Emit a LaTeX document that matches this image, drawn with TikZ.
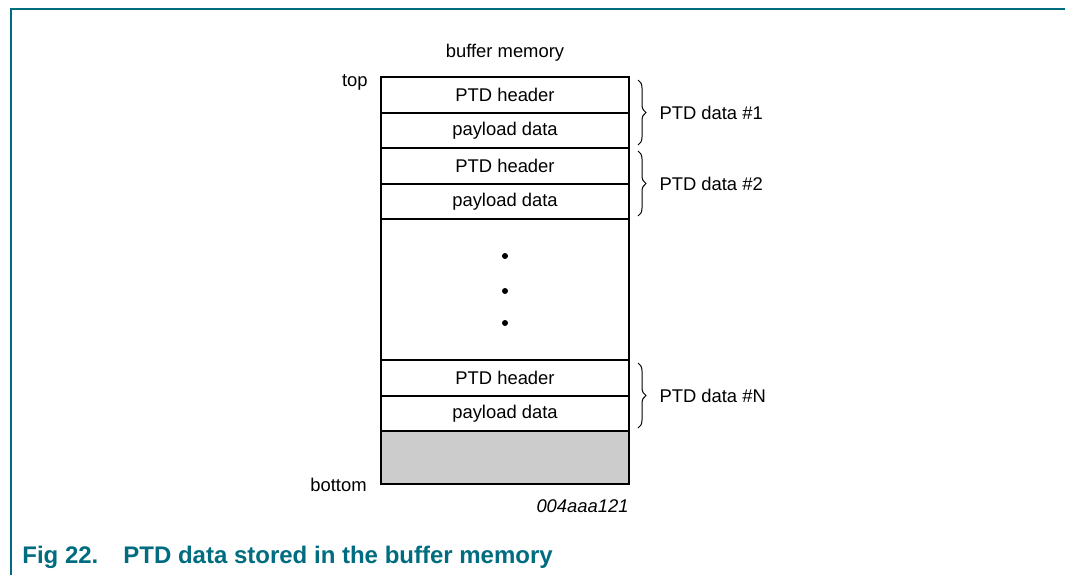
\documentclass[tikz,border=0pt]{standalone}
\usepackage{fontspec}
\setmainfont{Liberation Sans}
\usetikzlibrary{decorations.pathreplacing}
\definecolor{nxpteal}{RGB}{0,108,128}

\begin{document}
\begin{tikzpicture}[x=0.5pt, y=-0.5pt,
  cell/.style={draw, line width=1pt, minimum width=124pt, minimum height=17.75pt, inner sep=0pt, font=\fontsize{9.2}{11}\selectfont},
  lbl/.style={inner sep=0pt, font=\fontsize{9.2}{11}\selectfont},
  ptdbrace/.style={decorate, decoration={brace, amplitude=4pt}, line width=0.5pt},
  capt/.style={anchor=west, inner sep=0pt, text=nxpteal, font=\fontsize{12}{14}\selectfont\bfseries}]
\useasboundingbox (0,0) rectangle (1065,575);
\draw[nxpteal, line width=1pt] (11,575) -- (11,9) -- (1065,9);
\node[lbl] (title) at (505,53) {buffer memory};
%%%%%%%%%%%%%
\node[cell] (hdr1) at (505,94.75) {PTD header};
\node[cell] (pay1) at (505,130.25) {payload data};
\node[cell] (hdr2) at (505,165.75) {PTD header};
\node[cell] (pay2) at (505,201.25) {payload data};
\node[cell, minimum height=70.5pt] (gap) at (505,289.5) {};
\node[cell] (hdrN) at (505,377.75) {PTD header};
\node[cell] (payN) at (505,413.25) {payload data};
\node[cell, fill=black!20, minimum height=26.5pt] (free) at (505,457.5) {};
\foreach \y in {256,291,323} \fill (505,\y) circle (1.5pt);
%%%%%%%%%%%%%
\node[lbl, anchor=east] (toplbl) at (368,82) {top};
\node[lbl, anchor=east] (botlbl) at (367,485) {bottom};
\node[lbl, anchor=east, font=\fontsize{9.2}{11}\selectfont\itshape] (figid) at (629,506) {004aaa121};
%%%%%%%%%%%%%
\draw[ptdbrace] ([xshift=4pt,yshift=-2pt]hdr1.north east) -- ([xshift=4pt,yshift=2pt]pay1.south east) node[lbl, midway, right=10.5pt] (data1) {PTD data \#1};
\draw[ptdbrace] ([xshift=4pt,yshift=-2pt]hdr2.north east) -- ([xshift=4pt,yshift=2pt]pay2.south east) node[lbl, midway, right=10.5pt] (data2) {PTD data \#2};
\draw[ptdbrace] ([xshift=4pt,yshift=-2pt]hdrN.north east) -- ([xshift=4pt,yshift=2pt]payN.south east) node[lbl, midway, right=10.5pt] (dataN) {PTD data \#N};
%%%%%%%%%%%%%
\node[capt] (fignum) at (22,557) {Fig 22.};
\node[capt] (caption) at (123,557) {PTD data stored in the buffer memory};
\end{tikzpicture}
\end{document}
